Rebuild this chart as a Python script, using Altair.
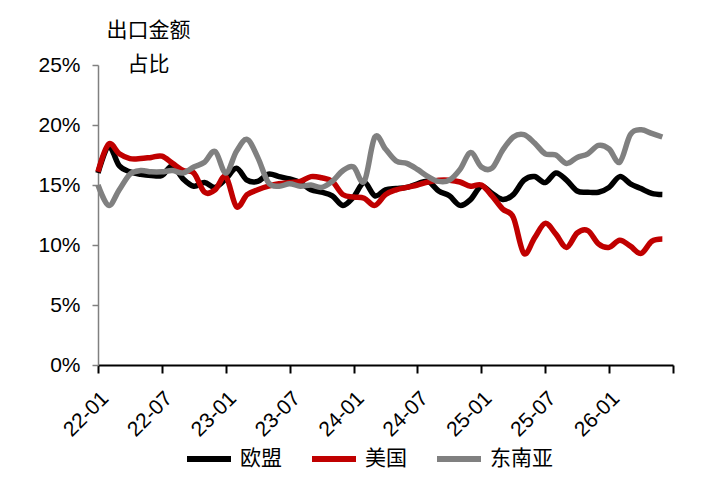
import altair as alt
import pandas as pd

# month labels on the axis (every 6 months), last tick unlabeled
tick_labels = ["22-01", "22-07", "23-01", "23-07", "24-01", "24-07", "25-01", "25-07", "26-01", ""]
series_names = ["欧盟", "美国", "东南亚"]
series_colors = ["#000000", "#C00000", "#808080"]

eu = [16.0, 18.2, 16.6, 16.1, 15.9, 15.8, 15.8, 16.6, 15.5, 14.9, 15.2, 14.8, 15.5, 16.4, 15.4, 15.3, 15.9, 15.7,
      15.5, 15.2, 14.6, 14.4, 14.1, 13.3, 14.0, 15.2, 14.1, 14.6, 14.7, 14.8, 15.1, 15.3, 14.5, 14.1, 13.3, 13.8,
      14.9, 14.3, 13.8, 14.2, 15.4, 15.7, 15.2, 16.0, 15.4, 14.5, 14.4, 14.4, 14.8, 15.7, 15.1, 14.7, 14.3, 14.2]
us = [16.1, 18.4, 17.6, 17.2, 17.2, 17.3, 17.4, 16.8, 16.2, 16.0, 14.4, 14.6, 15.7, 13.2, 14.2, 14.6, 14.9, 15.1,
      15.2, 15.3, 15.7, 15.6, 15.3, 14.2, 14.0, 13.9, 13.3, 14.2, 14.6, 14.8, 15.0, 15.25, 15.4, 15.4, 15.25, 14.9,
      15.0, 14.1, 13.0, 12.3, 9.3, 10.6, 11.8, 10.9, 9.8, 11.0, 11.2, 10.1, 9.8, 10.4, 9.9, 9.3, 10.3, 10.5]
asean = [15.0, 13.3, 14.6, 15.9, 16.2, 16.1, 16.1, 16.2, 16.0, 16.5, 16.9, 17.8, 16.0, 17.8, 18.8, 17.3, 15.2, 14.9,
         15.1, 14.9, 15.0, 14.8, 15.3, 16.2, 16.5, 15.3, 19.0, 18.0, 17.0, 16.8, 16.3, 15.7, 15.3, 15.4, 16.3, 17.7,
         16.5, 16.4, 17.9, 19.0, 19.2, 18.5, 17.6, 17.5, 16.8, 17.3, 17.6, 18.3, 18.0, 16.9, 19.2, 19.6, 19.3, 19.0]

rows = []
for name, vals in zip(series_names, [eu, us, asean]):
    for i, v in enumerate(vals):
        rows.append({"idx": i, "series": name, "value": v})
df = pd.DataFrame(rows)

label_expr = "[" + ",".join("'" + t + "'" for t in tick_labels) + "][floor(datum.value/6)]"
FONT = "Liberation Sans, Noto Sans CJK SC"

chart = alt.Chart(df).mark_line(strokeWidth=5.5, interpolate="cardinal").encode(
    x=alt.X("idx:Q",
            scale=alt.Scale(domain=[0, 54], nice=False, zero=False),
            axis=alt.Axis(values=list(range(0, 55, 6)), labelExpr=label_expr, title=None,
                          grid=False, domainColor="#000000", domainWidth=2, tickColor="#000000",
                          tickWidth=2, tickSize=8, labelAngle=-45, labelAlign="right",
                          labelBaseline="middle", labelFontSize=21, labelColor="#000000",
                          labelPadding=22, labelOffset=7, labelFont=FONT)),
    y=alt.Y("value:Q",
            scale=alt.Scale(domain=[0, 25], nice=False),
            axis=alt.Axis(values=[0, 5, 10, 15, 20, 25], labelExpr="datum.value + '%'",
                          title=["出口金额", "占比"], titleAngle=0, titleAlign="center",
                          titleX=50, titleY=-29, titleBaseline="alphabetic", titleLineHeight=34,
                          titleFontSize=21, titleFontWeight="normal", titleFont=FONT, titleColor="#000000",
                          grid=False, domainColor="#808080", domainWidth=1.5, tickColor="#808080",
                          tickWidth=1.5, tickSize=6, labelFontSize=21, labelColor="#000000",
                          labelPadding=12, labelFont=FONT)),
    color=alt.Color("series:N",
                    scale=alt.Scale(domain=series_names, range=series_colors),
                    sort=series_names,
                    legend=alt.Legend(title=None, orient="none", direction="horizontal",
                                      legendX=86, legendY=369, symbolType="stroke",
                                      symbolSize=1936, symbolStrokeWidth=6, labelFontSize=21,
                                      labelFont=FONT, labelColor="#000000", columnPadding=18,
                                      labelOffset=6, padding=0)),
).properties(
    width=575, height=300,
    autosize=alt.AutoSizeParams(type="none"),
    padding={"left": 90, "top": 57, "right": 40, "bottom": 104},
).configure_view(stroke=None)

chart.save("out.html", embed_options={"renderer": "svg", "actions": False})
